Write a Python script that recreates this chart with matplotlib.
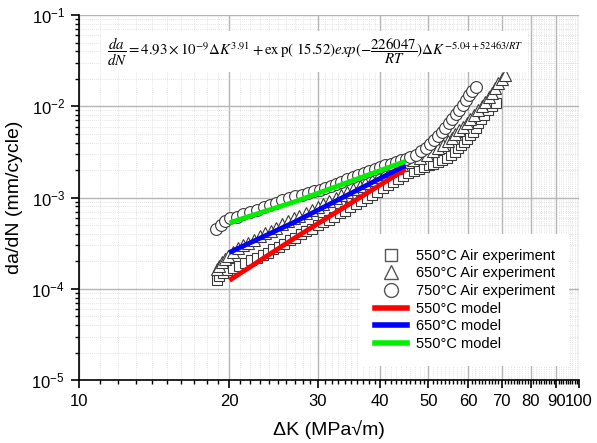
import math
import matplotlib
matplotlib.use("Agg")
import matplotlib.pyplot as plt
from matplotlib.ticker import FixedLocator, FuncFormatter, LogLocator, NullFormatter
from matplotlib.lines import Line2D

plt.rcParams['font.family'] = ['Liberation Sans', 'DejaVu Sans']

# ---------------- data ----------------
sq_dk = [18.9, 19.1, 19.4, 19.8, 20.3, 20.9, 21.5, 22.1, 22.7, 23.3, 23.9, 24.5, 25.1, 25.7,
         26.4, 27.1, 27.8, 28.5, 29.2, 30.0, 30.8, 31.6, 32.4, 33.2, 34.0, 34.9, 35.8, 36.7,
         37.6, 38.5, 39.5, 40.5, 41.5, 42.5, 43.5, 44.5, 45.5, 46.7, 47.9, 49.0, 50.1, 51.1,
         52.2, 53.3, 54.4, 55.5, 56.4, 57.2, 58.0, 58.8, 59.7, 60.6, 61.4, 62.1, 62.8, 63.6,
         64.6, 65.7, 66.9, 68.3]
sq_da = [1.25e-4, 1.38e-4, 1.5e-4, 1.6e-4, 1.7e-4, 1.8e-4, 1.92e-4, 2.05e-4, 2.2e-4, 2.35e-4,
         2.5e-4, 2.7e-4, 2.9e-4, 3.1e-4, 3.4e-4, 3.65e-4, 3.95e-4, 4.25e-4, 4.55e-4, 4.95e-4,
         5.35e-4, 5.75e-4, 6.2e-4, 6.7e-4, 7.2e-4, 7.8e-4, 8.5e-4, 9.2e-4, 9.9e-4, 1.07e-3,
         1.16e-3, 1.26e-3, 1.37e-3, 1.48e-3, 1.6e-3, 1.72e-3, 1.85e-3, 1.98e-3, 2.08e-3, 2.16e-3,
         2.25e-3, 2.35e-3, 2.45e-3, 2.58e-3, 2.72e-3, 2.92e-3, 3.18e-3, 3.45e-3, 3.75e-3, 4.05e-3,
         4.4e-3, 4.8e-3, 5.25e-3, 5.8e-3, 6.5e-3, 7.3e-3, 8.1e-3, 9.0e-3, 1.0e-2, 1.1e-2]

tri_dk = [18.9, 19.1, 19.3, 19.6, 19.9, 20.3, 20.8, 21.3, 21.8, 22.4, 23.0, 23.6, 24.2, 24.8,
          25.5, 26.2, 26.9, 27.6, 28.4, 29.2, 30.0, 30.8, 31.7, 32.6, 33.5, 34.4, 35.4, 36.4,
          37.4, 38.5, 39.6, 40.7, 41.8, 43.0, 44.2, 45.4, 46.5, 48.0, 49.6, 51.0, 52.2, 53.4,
          54.6, 55.6, 56.6, 57.6, 58.6, 59.6, 60.6, 61.7, 62.8, 63.9, 65.0, 66.0, 67.0, 68.0,
          69.0, 70.0, 71.0]
tri_da = [1.65e-4, 1.8e-4, 1.95e-4, 2.1e-4, 2.3e-4, 2.55e-4, 2.8e-4, 3.0e-4, 3.2e-4, 3.45e-4,
          3.75e-4, 4.05e-4, 4.35e-4, 4.7e-4, 5.1e-4, 5.5e-4, 5.9e-4, 6.3e-4, 6.8e-4, 7.3e-4,
          7.9e-4, 8.5e-4, 9.1e-4, 9.8e-4, 1.06e-3, 1.14e-3, 1.23e-3, 1.33e-3, 1.43e-3, 1.55e-3,
          1.68e-3, 1.82e-3, 1.97e-3, 2.13e-3, 2.3e-3, 2.45e-3, 2.55e-3, 2.7e-3, 2.9e-3, 3.2e-3,
          3.5e-3, 3.8e-3, 4.15e-3, 4.55e-3, 5.0e-3, 5.5e-3, 6.0e-3, 6.6e-3, 7.3e-3, 8.1e-3,
          9.0e-3, 1.0e-2, 1.12e-2, 1.25e-2, 1.4e-2, 1.58e-2, 1.78e-2, 2.0e-2, 2.2e-2]

cir_dk = [18.8, 19.2, 19.6, 20.1, 20.7, 21.3, 22.0, 22.7, 23.4, 24.1, 24.8, 25.5, 26.3, 27.1,
          27.9, 28.7, 29.5, 30.3, 31.1, 31.9, 32.7, 33.5, 34.4, 35.3, 36.2, 37.1, 38.0, 39.0,
          40.0, 41.0, 42.0, 43.0, 44.0, 45.0, 46.0, 47.2, 48.3, 49.4, 50.4, 51.3, 52.2, 53.1,
          54.0, 54.9, 55.8, 56.7, 57.6, 58.5, 59.4, 60.3, 61.2, 62.2]
cir_da = [4.5e-4, 5.0e-4, 5.5e-4, 5.9e-4, 6.2e-4, 6.6e-4, 7.0e-4, 7.4e-4, 7.8e-4, 8.3e-4,
          8.8e-4, 9.3e-4, 9.8e-4, 1.03e-3, 1.08e-3, 1.12e-3, 1.17e-3, 1.22e-3, 1.28e-3, 1.34e-3,
          1.42e-3, 1.5e-3, 1.58e-3, 1.66e-3, 1.75e-3, 1.85e-3, 1.95e-3, 2.05e-3, 2.15e-3, 2.25e-3,
          2.35e-3, 2.45e-3, 2.55e-3, 2.65e-3, 2.75e-3, 2.95e-3, 3.2e-3, 3.5e-3, 3.85e-3, 4.25e-3,
          4.7e-3, 5.2e-3, 5.8e-3, 6.5e-3, 7.3e-3, 8.2e-3, 9.2e-3, 1.04e-2, 1.17e-2, 1.32e-2,
          1.47e-2, 1.62e-2]

model_dk = [20, 27, 45]
model_550 = [1.24e-4, 3.6e-4, 2.05e-3]
model_650 = [2.5e-4, 5.4e-4, 2.25e-3]
model_750 = [5.3e-4, 9.0e-4, 2.5e-3]

legend_labels = ['550°C Air experiment', '650°C Air experiment', '750°C Air experiment',
                 '550°C model', '650°C model', '550°C model']
x_tick_vals = [10, 20, 30, 40, 50, 60, 70, 80, 90, 100]
x_minor_vals = [v for v in range(11, 100) if v % 10 != 0]
y_major_vals = [1e-5, 1e-4, 1e-3, 1e-2, 1e-1]

# ---------------- figure ----------------
fig = plt.figure(figsize=(5.97, 4.43), dpi=100)
ax = fig.add_axes([0.132, 0.142, 0.838, 0.824])
ax.set_xscale('log')
ax.set_yscale('log')
ax.set_xlim(10, 100)
ax.set_ylim(1e-5, 1e-1)

edge = '#3a3a3a'
ax.plot(sq_dk, sq_da, ls='none', marker='s', ms=7.5, mfc='white', mec=edge, mew=0.8, zorder=3)
ax.plot(tri_dk, tri_da, ls='none', marker='^', ms=8.5, mfc='white', mec=edge, mew=0.8, zorder=3)
ax.plot(cir_dk, cir_da, ls='none', marker='o', ms=8.5, mfc='white', mec=edge, mew=0.8, zorder=3)
ax.plot(model_dk, model_550, color='#ff0000', lw=3.5, zorder=4, solid_capstyle='butt')
ax.plot(model_dk, model_650, color='#0000ff', lw=3.5, zorder=4, solid_capstyle='butt')
ax.plot(model_dk, model_750, color='#00f000', lw=3.5, zorder=4, solid_capstyle='butt')

# ticks
ax.xaxis.set_major_locator(FixedLocator(x_tick_vals))
ax.xaxis.set_minor_locator(FixedLocator(x_minor_vals))
ax.xaxis.set_major_formatter(FuncFormatter(lambda v, p: '%d' % round(v)))
ax.xaxis.set_minor_formatter(NullFormatter())
ax.yaxis.set_major_locator(FixedLocator(y_major_vals))
ax.yaxis.set_minor_locator(LogLocator(base=10, subs=[2, 3, 4, 5, 6, 7, 8, 9]))
ax.yaxis.set_major_formatter(FuncFormatter(
    lambda v, p: r'$\mathregular{10^{%d}}$' % round(math.log10(v))))
ax.yaxis.set_minor_formatter(NullFormatter())
ax.tick_params(which='major', direction='out', length=6, width=1.2, labelsize=12, pad=4)
ax.tick_params(which='minor', direction='out', length=3, width=1.0)

# grid
ax.grid(which='major', color='#b5b5b5', lw=1.0, ls='-', zorder=0)
ax.grid(which='minor', color='#dadada', lw=0.6, ls=(0, (1, 1.5)), zorder=0)
ax.set_axisbelow(True)
for s in ['top', 'right']:
    ax.spines[s].set_visible(False)
for s in ['left', 'bottom']:
    ax.spines[s].set_linewidth(1.2)

ax.set_xlabel('ΔK (MPa√m)', fontsize=14, labelpad=8)
ax.set_ylabel('da/dN (mm/cycle)', fontsize=14, labelpad=6)

# equation
eq = (r'$\dfrac{da}{dN} = 4.93 \times 10^{-9}\Delta K^{3.91} + \mathrm{ex\,p(\ 15.52)}exp(-\dfrac{226047}{RT})'
      r'\Delta K^{-5.04+52463/RT}$')
ax.text(0.472, 0.9, eq, transform=ax.transAxes, ha='center', va='center', fontsize=10.7,
        math_fontfamily='stix', zorder=6,
        bbox=dict(facecolor='white', edgecolor='none', boxstyle='square,pad=0.3'))

# legend
handles = [
    Line2D([], [], ls='none', marker='s', ms=8, mfc='white', mec='#555555', mew=1.0),
    Line2D([], [], ls='none', marker='^', ms=10, mfc='white', mec='#555555', mew=1.0),
    Line2D([], [], ls='none', marker='o', ms=10, mfc='white', mec='#555555', mew=1.0),
    Line2D([], [], color='#ff0000', lw=4),
    Line2D([], [], color='#0000ff', lw=4),
    Line2D([], [], color='#00f000', lw=4),
]
leg = ax.legend(handles, legend_labels, loc='lower right', bbox_to_anchor=(0.995, 0.02),
                fontsize=10.5, frameon=True, fancybox=False, edgecolor='none',
                framealpha=1.0, handlelength=2.2, handletextpad=0.6, labelspacing=0.25,
                borderpad=1.0)
leg.set_zorder(7)

fig.savefig('out.png', dpi=100, facecolor='white')
